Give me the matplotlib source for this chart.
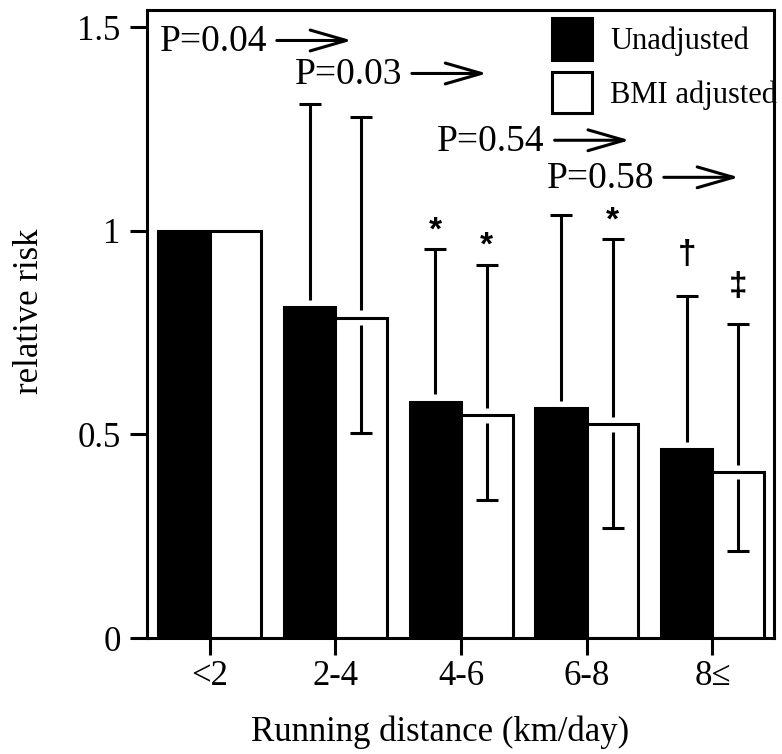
import numpy as np
import matplotlib
matplotlib.use('Agg')
from matplotlib import pyplot as plt
from matplotlib.text import OffsetFrom

# Data
groups = ['<2', '2-4', '4-6', '6-8', '8\u2264']
unadj = [1.0, 0.812, 0.580, 0.564, 0.464]
unadj_upper = [1.0, 1.311, 0.955, 1.039, 0.840]
adj = [1.0, 0.787, 0.547, 0.525, 0.408]
adj_upper = [1.0, 1.280, 0.917, 0.980, 0.770]
adj_lower = [1.0, 0.503, 0.339, 0.269, 0.214]
unadj_marks = ['', '', '*', '', '\u2020']
adj_marks = ['', '', '*', '*', '\u2021']

p_labels = ['P=0.04', 'P=0.03', 'P=0.54', 'P=0.58']
p_x = [-0.40, 0.675, 1.81, 2.68]
p_y = [1.463, 1.382, 1.218, 1.127]

plt.rcParams['font.family'] = ['Liberation Serif', 'DejaVu Serif']

fig = plt.figure(figsize=(7.82, 7.54), dpi=100)
ax = fig.add_axes([0.188, 0.1538, 0.8018, 0.8329])

lw = 2.2
x = np.arange(len(groups))
w = 0.41
xb = x - w / 2
xw = x + w / 2

ax.bar(xb, unadj, w, color='black', edgecolor='black', linewidth=lw,
       label='Unadjusted', zorder=2)
ax.bar(xw, adj, w, color='white', edgecolor='black', linewidth=lw,
       label='BMI adjusted', zorder=2)

# error bars with a small break where they cross the bar top
gap = 0.018
cap = 15.5
for i in range(len(groups)):
    if unadj_upper[i] > unadj[i]:
        ax.vlines(xb[i], unadj[i] + gap, unadj_upper[i], color='black', lw=lw, zorder=3)
        ax.plot(xb[i], unadj_upper[i], marker='_', ms=cap, mew=lw, color='black', zorder=3)
    if adj_upper[i] > adj[i]:
        ax.vlines(xw[i], adj[i] + gap, adj_upper[i], color='black', lw=lw, zorder=3)
        ax.plot(xw[i], adj_upper[i], marker='_', ms=cap, mew=lw, color='black', zorder=3)
    if adj_lower[i] < adj[i]:
        ax.vlines(xw[i], adj_lower[i], adj[i] - gap, color='black', lw=lw, zorder=3)
        ax.plot(xw[i], adj_lower[i], marker='_', ms=cap, mew=lw, color='black', zorder=3)

# significance marks above the upper whiskers
mark_off = {'*': 2, '\u2020': 19, '\u2021': 16}
for xs, tops, marks in ((xb, unadj_upper, unadj_marks), (xw, adj_upper, adj_marks)):
    for xi, t, m in zip(xs, tops, marks):
        if m:
            ax.annotate(m, (xi, t), xytext=(0, mark_off[m]), textcoords='offset points',
                        ha='center', va='bottom', fontsize=24, fontweight='bold',
                        family=['Liberation Sans', 'DejaVu Sans'])

# trend P values with arrows
for lab, px, py in zip(p_labels, p_x, p_y):
    t = ax.text(px, py, lab, fontsize=27, ha='left', va='center')
    ref = OffsetFrom(t, (1.0, 0.55), unit='points')
    ax.annotate('', xy=(61, 0), xycoords=ref, xytext=(7, 0), textcoords=ref,
                arrowprops=dict(arrowstyle='->,head_length=26,head_width=7.5',
                                mutation_scale=1, lw=lw, color='black',
                                shrinkA=0, shrinkB=0))

ax.set_xlim(-0.5, 4.49)
ax.set_ylim(0, 1.542)
ax.set_xticks(x)
ax.set_xticklabels(groups, fontsize=25)
ax.set_yticks([0, 0.5, 1, 1.5])
ax.set_yticklabels(['0', '0.5', '1', '1.5'], fontsize=25)
ax.tick_params(axis='both', direction='out', length=12, width=lw)
ax.tick_params(axis='x', pad=4)
ax.tick_params(axis='y', pad=7)
for s in ax.spines.values():
    s.set_linewidth(lw)

ax.set_xlabel('Running distance (km/day)', fontsize=25)
ax.xaxis.set_label_coords(0.467, -0.124)
ax.set_ylabel('relative risk', fontsize=25)
ax.yaxis.set_label_coords(-0.161, 0.52)

ax.legend(loc='upper left', bbox_to_anchor=(0.646, 0.987), frameon=False,
          fontsize=22, borderpad=0, borderaxespad=0, handlelength=1.31,
          handleheight=1.71, handletextpad=0.6, labelspacing=0.4)

fig.savefig('out.png', dpi=100)
